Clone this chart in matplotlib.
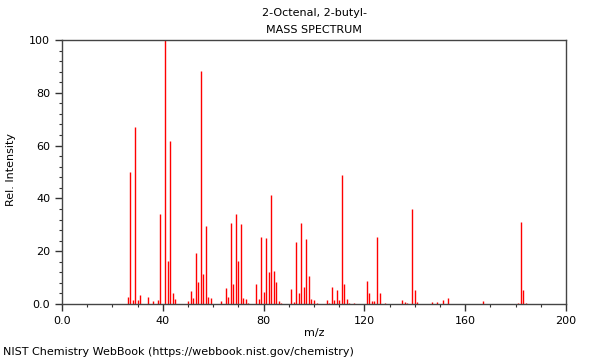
import matplotlib
matplotlib.use("Agg")
import matplotlib.pyplot as plt
from matplotlib.ticker import MultipleLocator

# peaks
mz = [26, 27, 28, 29, 30, 31, 34, 36, 38, 39, 41, 42, 43, 44, 45, 50,
      51, 52, 53, 54, 55, 56, 57, 58, 59, 63, 65, 66, 67, 68, 69, 70,
      71, 72, 73, 74, 77, 78, 79, 80, 81, 82, 83, 84, 85, 86, 87, 91,
      92, 93, 94, 95, 96, 97, 98, 99, 100, 101, 105, 106, 107, 108, 109, 110,
      111, 112, 113, 114, 116, 121, 122, 123, 124, 125, 126, 128, 135, 136, 137, 139,
      140, 141, 147, 149, 151, 153, 167, 181, 182, 183, 184]
intensity = [2.8, 50.1, 1.5, 66.9, 1.5, 3.4, 2.5, 1.0, 1.5, 34.0, 100.0, 16.3, 61.7, 4.0, 2.0, 1.0,
             4.9, 2.1, 19.2, 8.5, 88.3, 11.2, 29.7, 2.5, 2.4, 1.0, 5.9, 2.7, 30.7, 7.4, 34.0, 16.3,
             30.2, 2.3, 2.0, 0.5, 7.6, 2.0, 25.5, 4.4, 25.0, 12.2, 41.3, 12.4, 8.5, 1.0, 0.5, 5.7,
             0.6, 23.6, 4.2, 30.8, 6.3, 24.5, 10.6, 2.0, 1.7, 0.5, 1.5, 0.4, 6.3, 1.5, 5.3, 1.5,
             48.9, 7.6, 2.0, 0.3, 0.3, 8.8, 4.0, 1.0, 1.2, 25.2, 4.0, 0.4, 1.5, 0.7, 0.5, 36.0,
             5.3, 0.7, 0.8, 0.8, 1.5, 2.4, 1.1, 0.5, 31.2, 5.3, 0.3]

compound = "2-Octenal, 2-butyl-"
footer = "NIST Chemistry WebBook (https://webbook.nist.gov/chemistry)"

fig = plt.figure(figsize=(6, 3.6), dpi=100)
ax = fig.add_axes([62/600, 56/360, 504/600, 264/360])

ax.vlines(mz, 0, intensity, colors="#ff0000", linewidth=1)

ax.set_xlim(0, 200)
ax.set_ylim(0, 100)
ax.xaxis.set_major_locator(MultipleLocator(40))
ax.xaxis.set_minor_locator(MultipleLocator(10))
ax.yaxis.set_major_locator(MultipleLocator(20))
ax.yaxis.set_minor_locator(MultipleLocator(4))
ax.xaxis.set_major_formatter(lambda v, p: "%.1f" % v if v == 0 else "%d" % v)
ax.yaxis.set_major_formatter(lambda v, p: "%.1f" % v if v == 0 else "%d" % v)
ax.tick_params(which="both", direction="out", labelsize=8, colors="#333333", labelcolor="black")
ax.tick_params(which="major", length=5, width=1)
ax.tick_params(which="minor", length=2.5, width=0.8)
for s in ax.spines.values():
    s.set_color("#444444")
    s.set_linewidth(1)

fig.text(314/600, 1 - 13/360, compound, ha="center", va="center", fontsize=8)
fig.text(314/600, 1 - 30/360, "MASS SPECTRUM", ha="center", va="center", fontsize=8)
fig.text(314/600, 1 - 333/360, "m/z", ha="center", va="center", fontsize=8)
fig.text(11/600, 1 - 170/360, "Rel. Intensity", ha="center", va="center",
         rotation=90, fontsize=8)
fig.text(3/600, 1 - 352/360, footer, ha="left", va="center", fontsize=8)

fig.savefig("out.png", dpi=100)
